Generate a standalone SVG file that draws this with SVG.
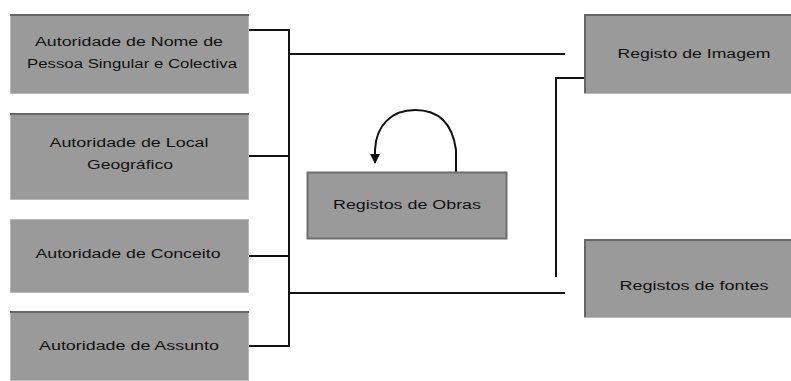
<svg xmlns="http://www.w3.org/2000/svg" width="791" height="381" viewBox="0 0 791 381">
<defs>
<style>
.box{fill:#9a9a9a;stroke:#b8b8b8;stroke-width:1}
.top{stroke:#666;stroke-width:2}
.lbl{font-family:"Liberation Sans",Arial,sans-serif;font-size:12px;fill:#111;text-anchor:middle}
.con{fill:none;stroke:#111;stroke-width:2}
</style>
<marker id="arr" viewBox="0 0 10 10" refX="9" refY="5" markerWidth="5" markerHeight="5" orient="auto-start-reverse" markerUnits="strokeWidth">
<path d="M0,0 L10,5 L0,10 z" fill="#111"/>
</marker>
</defs>
<rect width="791" height="381" fill="#fff"/>
<g id="connectors">
<polyline class="con" points="248,30 289,30 289,346 248,346"/>
<line class="con" x1="248" y1="156" x2="289" y2="156"/>
<line class="con" x1="248" y1="256" x2="289" y2="256"/>
<line class="con" x1="289" y1="54" x2="565" y2="54"/>
<line class="con" x1="289" y1="293" x2="565" y2="293"/>
<polyline class="con" points="584,78 556,78 556,277"/>
<path class="con" d="M456,172 L456,150 C452,120 435,110 415,110 C392,110 376,125 375,150 L375,163" marker-end="url(#arr)"/>
</g>
<g id="n1"><rect class="box" x="10.5" y="14.5" width="238" height="79"/><line class="top" x1="10" y1="15" x2="249" y2="15"/>
<text class="lbl" x="129" y="46" textLength="188" lengthAdjust="spacingAndGlyphs">Autoridade de Nome de</text>
<text class="lbl" x="132" y="68" textLength="210" lengthAdjust="spacingAndGlyphs">Pessoa Singular e Colectiva</text></g>
<g id="n2"><rect class="box" x="10.5" y="113.5" width="238" height="86"/><line class="top" x1="10" y1="114" x2="249" y2="114"/>
<text class="lbl" x="129" y="147" textLength="159" lengthAdjust="spacingAndGlyphs">Autoridade de Local</text>
<text class="lbl" x="130" y="169" textLength="86" lengthAdjust="spacingAndGlyphs">Geográfico</text></g>
<g id="n3"><rect class="box" x="10.5" y="219.5" width="238" height="73"/>
<text class="lbl" x="128" y="258" textLength="185" lengthAdjust="spacingAndGlyphs">Autoridade de Conceito</text></g>
<g id="n4"><rect class="box" x="10.5" y="311.5" width="238" height="69"/><line class="top" x1="10" y1="312" x2="249" y2="312"/>
<text class="lbl" x="129" y="350" textLength="180" lengthAdjust="spacingAndGlyphs">Autoridade de Assunto</text></g>
<g id="n5"><rect class="box" x="307.5" y="172.5" width="199" height="66" style="stroke:#6f6f6f;stroke-width:2"/>
<text class="lbl" x="407" y="209" textLength="148" lengthAdjust="spacingAndGlyphs">Registos de Obras</text></g>
<g id="n6"><rect class="box" x="584.5" y="14.5" width="210" height="79"/><line class="top" x1="584" y1="15" x2="791" y2="15"/><line class="top" x1="585" y1="15" x2="585" y2="93"/>
<text class="lbl" x="694" y="58" textLength="153" lengthAdjust="spacingAndGlyphs">Registo de Imagem</text></g>
<g id="n7"><rect class="box" x="584.5" y="239.5" width="210" height="78"/><line class="top" x1="584" y1="240" x2="791" y2="240"/><line class="top" x1="585" y1="240" x2="585" y2="317"/>
<text class="lbl" x="694" y="290" textLength="149" lengthAdjust="spacingAndGlyphs">Registos de fontes</text></g>
</svg>
